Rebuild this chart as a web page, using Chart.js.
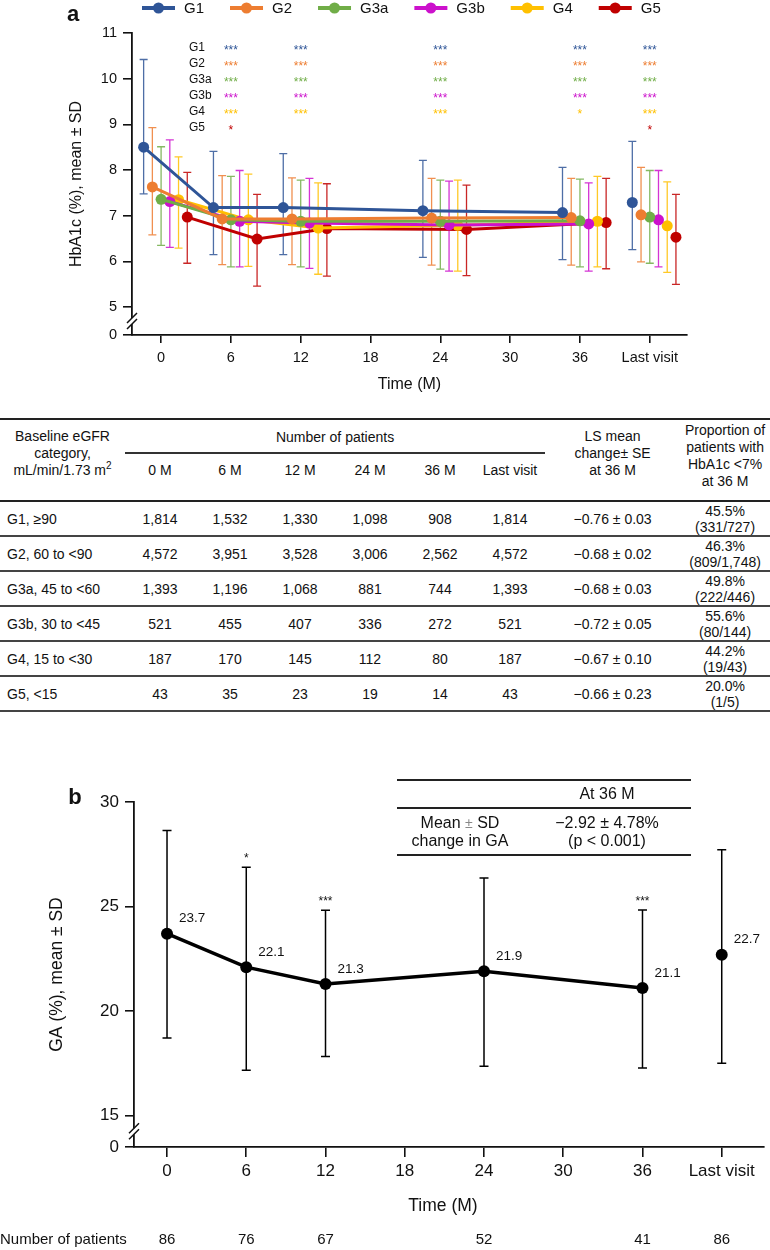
<!DOCTYPE html>
<html>
<head>
<meta charset="utf-8">
<script src="https://cdn.jsdelivr.net/npm/chart.js@4.4.1/dist/chart.umd.min.js"></script>
<style>
  body { margin: 0; background: #fff; font-family: "Liberation Sans", Arial, sans-serif; color: #111; }
  .page { position: relative; width: 770px; height: 1250px; overflow: hidden; }
  .chart-a { position: absolute; left: 0; top: 0; width: 770px; height: 400px; }
  .chart-b { position: absolute; left: 0; top: 760px; width: 770px; height: 490px; }
  canvas { display: block; }

  .egfr { position: absolute; left: 0; top: 418px; width: 770px; border-collapse: collapse; table-layout: fixed; font-size: 14px; }
  .egfr th, .egfr td { padding: 0; text-align: center; font-weight: normal; line-height: 17px; }
  .egfr thead { border-top: 2px solid #222; }
  .egfr thead tr.r1 th { height: 26px; vertical-align: top; padding-top: 8px; }
  .egfr thead tr.r1 th.prop { padding-top: 2px; }
  .egfr thead tr.r1 th.np { border-bottom: 2px solid #333; padding-top: 9px; height: 23px; }
  .egfr thead tr.r2 th { height: 38px; vertical-align: top; padding-top: 8px; }
  .egfr th.tall, .egfr thead tr.r2 th { border-bottom: 2px solid #222; }
  .egfr td { height: 33px; border-bottom: 2px solid #444; line-height: 16px; }
  .egfr td.cat { text-align: left; padding-left: 7px; }

  .inset { position: absolute; left: 397px; top: 779px; width: 294px; border-collapse: collapse; font-size: 16px; z-index: 2; }
  .inset td { padding: 0; text-align: center; line-height: 18px; }
  .inset tr.h td { height: 26px; border-top: 2px solid #222; border-bottom: 2px solid #222; }
  .inset tr.v td { height: 45px; border-bottom: 2px solid #222; }
  .inset .pm { color: #888; font-size: 14px; }
</style>
</head>
<body>
<div class="page">
  <div class="chart-a"><canvas id="chartA"></canvas></div>

  <table class="egfr" id="egfrTable">
    <colgroup>
      <col style="width:125px">
      <col style="width:70px"><col style="width:70px"><col style="width:70px">
      <col style="width:70px"><col style="width:70px"><col style="width:70px">
      <col style="width:135px"><col style="width:90px">
    </colgroup>
    <thead>
      <tr class="r1">
        <th rowspan="2" class="tall">Baseline eGFR<br>category,<br>mL/min/1.73 m<sup style="font-size:10px;line-height:0">2</sup></th>
        <th colspan="6" class="np">Number of patients</th>
        <th rowspan="2" class="tall">LS mean<br>change± SE<br>at 36 M</th>
        <th rowspan="2" class="tall prop">Proportion of<br>patients with<br>HbA1c &lt;7%<br>at 36 M</th>
      </tr>
      <tr class="r2" id="visitHeader"></tr>
    </thead>
    <tbody id="egfrBody"></tbody>
  </table>

  <table class="inset">
    <tr class="h"><td></td><td>At 36 M</td></tr>
    <tr class="v"><td style="width:126px">Mean <span class="pm">±</span> SD<br>change in GA</td><td>−2.92 ± 4.78%<br>(p &lt; 0.001)</td></tr>
  </table>

  <div class="chart-b"><canvas id="chartB"></canvas></div>
</div>

<script>
const FONT = '"Liberation Sans", Arial, sans-serif';

// time axis (42 is the "Last visit" slot)
const timePoints = [0, 6, 12, 24, 36, 42];
const xTicks = [0, 6, 12, 18, 24, 30, 36, 42];
const xTickLabels = ['0', '6', '12', '18', '24', '30', '36', 'Last visit'];

// panel a: HbA1c by eGFR group
const groups = ['G1', 'G2', 'G3a', 'G3b', 'G4', 'G5'];
const groupColors = ['#2F5597', '#ED7D31', '#70AD47', '#CC11CC', '#FFC000', '#C00000'];

const hbaG1 = [8.50, 7.18, 7.18, 7.11, 7.07, 7.29];
const hbaG2 = [7.63, 6.93, 6.93, 6.95, 6.96, 7.02];
const hbaG3a = [7.36, 6.91, 6.88, 6.88, 6.89, 6.97];
const hbaG3b = [7.31, 6.88, 6.84, 6.80, 6.82, 6.91];
const hbaG4 = [7.35, 6.91, 6.73, 6.79, 6.88, 6.78];
const hbaG5 = [6.97, 6.49, 6.72, 6.70, 6.85, 6.53];

// upper / lower ends of the SD bars
const hbaHighG1 = [10.42, 8.41, 8.36, 8.21, 8.06, 8.63];
const hbaHighG2 = [8.93, 7.88, 7.83, 7.82, 7.82, 8.06];
const hbaHighG3a = [8.51, 7.86, 7.78, 7.78, 7.80, 7.99];
const hbaHighG3b = [8.66, 7.99, 7.82, 7.76, 7.72, 7.99];
const hbaHighG4 = [8.29, 7.91, 7.72, 7.78, 7.86, 7.74];
const hbaHighG5 = [7.95, 7.47, 7.70, 7.67, 7.82, 7.47];

const hbaLowG1 = [7.48, 6.15, 6.15, 6.09, 6.04, 6.26];
const hbaLowG2 = [6.58, 5.93, 5.93, 5.92, 5.92, 5.99];
const hbaLowG3a = [6.35, 5.88, 5.88, 5.83, 5.88, 5.96];
const hbaLowG3b = [6.31, 5.88, 5.85, 5.79, 5.79, 5.88];
const hbaLowG4 = [6.29, 5.89, 5.72, 5.79, 5.88, 5.76];
const hbaLowG5 = [5.96, 5.46, 5.68, 5.69, 5.84, 5.50];

// significance vs baseline
const sigTimes = [6, 12, 24, 36, 42];
const sigG1 = ['***', '***', '***', '***', '***'];
const sigG2 = ['***', '***', '***', '***', '***'];
const sigG3a = ['***', '***', '***', '***', '***'];
const sigG3b = ['***', '***', '***', '***', '***'];
const sigG4 = ['***', '***', '***', '*', '***'];
const sigG5 = ['*', '', '', '', '*'];

// table
const eGFRCategories = ['G1, ≥90', 'G2, 60 to <90', 'G3a, 45 to <60', 'G3b, 30 to <45', 'G4, 15 to <30', 'G5, <15'];
const visitHeaders = ['0 M', '6 M', '12 M', '24 M', '36 M', 'Last visit'];
const nG1 = [1814, 1532, 1330, 1098, 908, 1814];
const nG2 = [4572, 3951, 3528, 3006, 2562, 4572];
const nG3a = [1393, 1196, 1068, 881, 744, 1393];
const nG3b = [521, 455, 407, 336, 272, 521];
const nG4 = [187, 170, 145, 112, 80, 187];
const nG5 = [43, 35, 23, 19, 14, 43];
const lsMean = [-0.76, -0.68, -0.68, -0.72, -0.67, -0.66];
const lsSE = [0.03, 0.02, 0.03, 0.05, 0.10, 0.23];
const below7Pct = [45.5, 46.3, 49.8, 55.6, 44.2, 20.0];
const below7N = ['331/727', '809/1,748', '222/446', '80/144', '19/43', '1/5'];

// panel b: glycated albumin
const gaMean = [23.7, 22.1, 21.3, 21.9, 21.1, 22.7];
const gaHigh = [28.64, 26.88, 24.82, 26.37, 24.84, 27.72];
const gaLow = [18.71, 17.17, 17.83, 17.36, 17.28, 17.51];
const gaSig = ['', '*', '***', '', '***', ''];
const gaPatients = [86, 76, 67, 52, 41, 86];

const hbaMean = [hbaG1, hbaG2, hbaG3a, hbaG3b, hbaG4, hbaG5];
const hbaHigh = [hbaHighG1, hbaHighG2, hbaHighG3a, hbaHighG3b, hbaHighG4, hbaHighG5];
const hbaLow = [hbaLowG1, hbaLowG2, hbaLowG3a, hbaLowG3b, hbaLowG4, hbaLowG5];
const hbaSig = [sigG1, sigG2, sigG3a, sigG3b, sigG4, sigG5];
const nByGroup = [nG1, nG2, nG3a, nG3b, nG4, nG5];

// where the "0" tick sits below the axis break
const A_ZERO = 4.39;
const B_ZERO = 13.5;
const DODGE = 0.75;

// ---------- table ----------
document.getElementById('visitHeader').innerHTML = visitHeaders.map(h => `<th>${h}</th>`).join('');
const fmt = n => n.toLocaleString('en-US');
document.getElementById('egfrBody').innerHTML = eGFRCategories.map((cat, i) => {
  const counts = nByGroup[i].map(n => `<td>${fmt(n)}</td>`).join('');
  const ls = `\u2212${Math.abs(lsMean[i]).toFixed(2)} ± ${lsSE[i].toFixed(2)}`;
  const cat2 = cat.replace('<', '&lt;');
  return `<tr><td class="cat">${cat2}</td>${counts}<td>${ls}</td><td>${below7Pct[i].toFixed(1)}%<br>(${below7N[i]})</td></tr>`;
}).join('');

// ---------- plugins ----------
const errorBars = {
  id: 'errorBars',
  beforeDatasetsDraw(chart, args, opts) {
    const { ctx, scales: { x, y } } = chart;
    ctx.save();
    ctx.globalAlpha = opts.alpha;
    chart.data.datasets.forEach(ds => {
      ds.data.forEach((pt, j) => {
        const px = x.getPixelForValue(pt.x);
        const top = y.getPixelForValue(ds.errHigh[j]);
        const bot = y.getPixelForValue(ds.errLow[j]);
        ctx.strokeStyle = ds.borderColor;
        ctx.lineWidth = opts.width;
        ctx.beginPath();
        ctx.moveTo(px, top); ctx.lineTo(px, bot);
        ctx.moveTo(px - opts.cap, top); ctx.lineTo(px + opts.cap, top);
        ctx.moveTo(px - opts.cap, bot); ctx.lineTo(px + opts.cap, bot);
        ctx.stroke();
      });
    });
    ctx.restore();
  }
};

const axisBreak = {
  id: 'axisBreak',
  afterDraw(chart, args, opts) {
    const { ctx, chartArea, scales: { y } } = chart;
    const mid = (y.getPixelForValue(opts.above) + chartArea.bottom) / 2;
    const x0 = chartArea.left;
    ctx.save();
    ctx.fillStyle = '#fff';
    ctx.fillRect(x0 - 3, mid - 3, 6, 6);
    ctx.strokeStyle = '#111';
    ctx.lineWidth = 1.5;
    ctx.beginPath();
    [-3, 3].forEach(d => {
      ctx.moveTo(x0 - 5, mid + d + 5);
      ctx.lineTo(x0 + 5, mid + d - 5);
    });
    ctx.stroke();
    ctx.restore();
  }
};

const axisTitles = {
  id: 'axisTitles',
  afterDraw(chart, args, opts) {
    const { ctx, chartArea } = chart;
    ctx.save();
    ctx.fillStyle = '#111';
    ctx.font = `${opts.size}px ${FONT}`;
    ctx.textAlign = 'center';
    ctx.textBaseline = 'middle';
    ctx.fillText(opts.x, (chartArea.left + chartArea.right) / 2 + opts.xShift, opts.xTitleY);
    ctx.translate(opts.yTitleX, (chartArea.top + chartArea.bottom) / 2);
    ctx.rotate(-Math.PI / 2);
    ctx.fillText(opts.y, 0, 0);
    ctx.restore();
    ctx.save();
    ctx.font = `bold 22px ${FONT}`;
    ctx.fillStyle = '#111';
    ctx.textAlign = 'center';
    ctx.textBaseline = 'middle';
    ctx.fillText(opts.panel, opts.panelX, opts.panelY);
    ctx.restore();
  }
};

// legend with line + marker icons
const lineLegend = {
  id: 'lineLegend',
  afterDraw(chart) {
    const { ctx } = chart;
    let cx = 142;
    const cy = 8;
    ctx.save();
    ctx.font = `15px ${FONT}`;
    ctx.textBaseline = 'middle';
    chart.data.datasets.forEach(ds => {
      ctx.strokeStyle = ds.borderColor;
      ctx.fillStyle = ds.borderColor;
      ctx.lineWidth = 4;
      ctx.beginPath();
      ctx.moveTo(cx, cy); ctx.lineTo(cx + 33, cy);
      ctx.stroke();
      ctx.beginPath();
      ctx.arc(cx + 16.5, cy, 5.5, 0, Math.PI * 2);
      ctx.fill();
      ctx.fillStyle = '#111';
      ctx.fillText(ds.label, cx + 42, cy + 1);
      cx += 42 + ctx.measureText(ds.label).width + 26;
    });
    ctx.restore();
  }
};

// significance grid at the top of panel a
const sigRows = {
  id: 'sigRows',
  afterDraw(chart) {
    const { ctx, chartArea, scales: { x } } = chart;
    ctx.save();
    ctx.textBaseline = 'middle';
    groups.forEach((g, i) => {
      const ry = chartArea.top + 14.5 + i * 16;
      ctx.font = `12px ${FONT}`;
      ctx.fillStyle = '#111';
      ctx.textAlign = 'left';
      ctx.fillText(g, 189, ry);
      ctx.textAlign = 'center';
      ctx.fillStyle = groupColors[i];
      hbaSig[i].forEach((s, k) => {
        if (s) ctx.fillText(s, x.getPixelForValue(sigTimes[k]), ry + 3);
      });
    });
    ctx.restore();
  }
};

// value labels, stars and patient counts for panel b
const gaLabels = {
  id: 'gaLabels',
  afterDatasetsDraw(chart) {
    const { ctx, scales: { x, y } } = chart;
    ctx.save();
    ctx.fillStyle = '#111';
    ctx.textBaseline = 'middle';
    ctx.textAlign = 'left';
    ctx.font = `13.5px ${FONT}`;
    gaMean.forEach((v, j) => {
      ctx.fillText(v.toFixed(1), x.getPixelForValue(timePoints[j]) + 12, y.getPixelForValue(v) - 15);
    });
    ctx.textAlign = 'center';
    ctx.textBaseline = 'alphabetic';
    ctx.font = `12px ${FONT}`;
    gaSig.forEach((s, j) => {
      if (s) ctx.fillText(s, x.getPixelForValue(timePoints[j]), y.getPixelForValue(gaHigh[j]) - 5);
    });
    ctx.textBaseline = 'middle';
    ctx.font = `15px ${FONT}`;
    ctx.textAlign = 'left';
    ctx.fillText('Number of patients', 0, 480);
    ctx.textAlign = 'center';
    gaPatients.forEach((n, j) => {
      ctx.fillText(String(n), x.getPixelForValue(timePoints[j]), 480);
    });
    ctx.restore();
  }
};

// ---------- shared axis setup ----------
function xAxis(fontSize, tickLen, pad, height) {
  return {
    type: 'linear', min: -2.5, max: 45.2,
    afterBuildTicks: s => { s.ticks = xTicks.map(v => ({ value: v })); },
    afterFit: s => { s.height = height; },
    ticks: {
      callback: v => xTickLabels[xTicks.indexOf(v)],
      font: { family: FONT, size: fontSize }, color: '#111',
      padding: pad, maxRotation: 0, autoSkip: false
    },
    grid: { drawOnChartArea: false, drawTicks: true, tickLength: tickLen, color: '#111', lineWidth: 1.6 },
    border: { color: '#111', width: 1.8 }
  };
}

function yAxis(zero, tickValues, max, fontSize, width) {
  return {
    type: 'linear', min: zero, max: max,
    afterBuildTicks: s => { s.ticks = [zero, ...tickValues].map(v => ({ value: v })); },
    afterFit: s => { s.width = width; },
    ticks: {
      callback: v => (v === zero ? '0' : v),
      font: { family: FONT, size: fontSize }, color: '#111', padding: 6
    },
    grid: { drawOnChartArea: false, drawTicks: true, tickLength: 9, color: '#111', lineWidth: 1.6 },
    border: { color: '#111', width: 1.8 }
  };
}

const lastIdx = timePoints.length - 1;

// ---------- panel a ----------
new Chart(document.getElementById('chartA'), {
  type: 'line',
  data: {
    datasets: groups.map((g, i) => ({
      label: g,
      data: timePoints.map((t, j) => ({ x: t + (i - 2) * DODGE, y: hbaMean[i][j] })),
      errHigh: hbaHigh[i],
      errLow: hbaLow[i],
      borderColor: groupColors[i],
      backgroundColor: groupColors[i],
      pointBackgroundColor: groupColors[i],
      pointBorderWidth: 0,
      pointRadius: 5.5,
      borderWidth: 3,
      segment: { borderColor: ctx => (ctx.p1DataIndex === lastIdx ? 'rgba(0,0,0,0)' : undefined) }
    }))
  },
  options: {
    responsive: true,
    maintainAspectRatio: false,
    animation: false,
    devicePixelRatio: 1,
    layout: { padding: { top: 33, right: 83, left: 0, bottom: 0 } },
    scales: {
      x: xAxis(14.5, 8, 6, 65),
      y: yAxis(A_ZERO, [5, 6, 7, 8, 9, 10, 11], 11, 14.5, 132)
    },
    plugins: {
      legend: { display: false },
      tooltip: { enabled: false },
      errorBars: { width: 1.3, cap: 4, alpha: 0.85 },
      axisBreak: { above: 5 },
      axisTitles: { x: 'Time (M)', y: 'HbA1c (%), mean ± SD', size: 16, xTitleY: 385, yTitleX: 77, xShift: 0, panel: 'a', panelX: 73, panelY: 15 }
    }
  },
  plugins: [errorBars, axisBreak, axisTitles, lineLegend, sigRows]
});

// ---------- panel b ----------
new Chart(document.getElementById('chartB'), {
  type: 'line',
  data: {
    datasets: [{
      label: 'GA',
      data: timePoints.map((t, j) => ({ x: t, y: gaMean[j] })),
      errHigh: gaHigh,
      errLow: gaLow,
      borderColor: '#000',
      backgroundColor: '#000',
      pointBackgroundColor: '#000',
      pointBorderWidth: 0,
      pointRadius: 6,
      borderWidth: 3.5,
      segment: { borderColor: ctx => (ctx.p1DataIndex === lastIdx ? 'rgba(0,0,0,0)' : undefined) }
    }]
  },
  options: {
    responsive: true,
    maintainAspectRatio: false,
    animation: false,
    devicePixelRatio: 1,
    layout: { padding: { top: 42, right: 2, left: 0, bottom: 0 } },
    scales: {
      x: xAxis(17, 10, 4, 103),
      y: yAxis(B_ZERO, [15, 20, 25, 30], 30, 17, 134)
    },
    plugins: {
      legend: { display: false },
      tooltip: { enabled: false },
      errorBars: { width: 1.5, cap: 4.5, alpha: 1 },
      axisBreak: { above: 15 },
      axisTitles: { x: 'Time (M)', y: 'GA (%), mean ± SD', size: 17.5, xTitleY: 446, yTitleX: 57, xShift: -6, panel: 'b', panelX: 75, panelY: 38 }
    }
  },
  plugins: [errorBars, axisBreak, axisTitles, gaLabels]
});
</script>
</body>
</html>
